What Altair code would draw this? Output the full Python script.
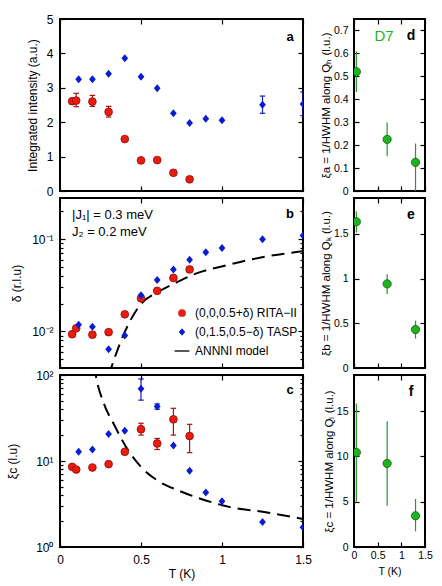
import altair as alt
import pandas as pd

FONT = "Liberation Sans"

RITA = "(0,0,0.5+δ) RITA−II"
TASP = "(0,1.5,0.5−δ) TASP"
ANNNI = "ANNNI model"

RED, RED_EDGE, RED_BAR = "#ec1b10", "#8e0b06", "#a3140e"
BLUE, BLUE_BAR = "#0a1bd4", "#1624b4"
GREEN, GREEN_EDGE, GREEN_BAR = "#1db41d", "#0c610c", "#2a962a"

DIAMOND = "M0,-1L0.84,0L0,1L-0.84,0Z"
DASH = "M-1.9,-0.17L1.9,-0.17L1.9,0.17L-1.9,0.17Z"

# ---------------- measured data ----------------
t_rita = [0.075, 0.1, 0.2, 0.3, 0.4, 0.5, 0.6, 0.7, 0.8]
t_tasp = [0.115, 0.2, 0.3, 0.4, 0.5, 0.6, 0.7, 0.8, 0.9, 1.0, 1.25, 1.5]

# integrated intensity (a.u.)
int_rita = [2.61, 2.63, 2.60, 2.30, 1.51, 0.89, 0.90, 0.53, 0.34]
int_tasp = [3.25, 3.25, 3.41, 3.86, 3.32, 2.99, 2.26, 1.98, 2.10, 2.06, 2.51, 2.53]
int_rita_err_t = [0.1, 0.2, 0.3]
int_rita_lo = [2.45, 2.46, 2.15]
int_rita_hi = [2.84, 2.78, 2.46]
int_tasp_err_t = [1.25, 1.5]
int_tasp_lo = [2.26, 2.19]
int_tasp_hi = [2.76, 2.88]

# incommensurability delta (r.l.u.)
delta_rita = [0.0093, 0.0108, 0.0092, 0.0098, 0.0153, 0.0228, 0.0275, 0.038, 0.047]
delta_tasp = [0.0118, 0.0112, 0.0064, 0.0090, 0.0247, 0.036, 0.047, 0.060, 0.072, 0.0805, 0.100, 0.110]
annni_delta_t = [0.3, 0.39, 0.5, 0.6, 0.72, 0.83, 1.03, 1.24, 1.47, 1.5]
annni_delta = [0.0033, 0.009, 0.0198, 0.0264, 0.034, 0.0418, 0.0522, 0.0634, 0.0729, 0.074]

# correlation length along c (l.u.)
xi_rita = [8.55, 7.96, 8.4, 9.2, 12.8, 23.4, 16.0, 30.5, 19.5]
xi_tasp = [12.8, 13.6, 20.6, 22.5, 69.0, 43.0, 15.1, 7.7, 4.3, 3.4, 1.95, 1.7]
xi_rita_err_t = [0.5, 0.6, 0.7, 0.8]
xi_rita_lo = [20.0, 13.6, 20.0, 12.5]
xi_rita_hi = [27.5, 18.3, 41.0, 26.7]
xi_tasp_err_t = [0.5, 0.6]
xi_tasp_lo = [51.0, 40.0]
xi_tasp_hi = [90.0, 46.0]
annni_xi_t = [0.21, 0.224, 0.27, 0.335, 0.42, 0.5, 0.6, 0.73, 0.9, 1.05, 1.26, 1.5]
annni_xi = [130, 92, 47, 26.2, 13.4, 8.55, 5.96, 4.55, 3.48, 2.91, 2.55, 2.12]

# D7 diffuse scattering: 1/HWHM along h, k, l
t_d7 = [0.05, 0.7, 1.3]
xi_a = [0.52, 0.225, 0.125]
xi_a_lo = [0.432, 0.152, 0.0]
xi_a_hi = [0.609, 0.299, 0.207]
xi_b = [1.635, 0.94, 0.43]
xi_b_lo = [1.514, 0.827, 0.33]
xi_b_hi = [1.753, 1.047, 0.53]
xi_c = [10.44, 9.23, 3.45]
xi_c_lo = [5.0, 4.55, 1.73]
xi_c_hi = [15.85, 13.9, 5.3]

T_TICKS = [0, 0.5, 1, 1.5]

# ---------------- tables ----------------
rita = pd.DataFrame({"T": t_rita, "I": int_rita, "delta": delta_rita, "xi": xi_rita, "series": RITA})
tasp = pd.DataFrame({"T": t_tasp, "I": int_tasp, "delta": delta_tasp, "xi": xi_tasp, "series": TASP})
d7 = pd.DataFrame({"T": t_d7, "a": xi_a, "b": xi_b, "c": xi_c})

# ---------------- scales ----------------
x_main = alt.Scale(domain=[0, 1.5], nice=False, zero=False)
y_int = alt.Scale(domain=[0, 5], nice=False, zero=False)
y_delta = alt.Scale(type="log", domain=[0.004, 0.28], nice=False)
y_xi = alt.Scale(type="log", domain=[1, 100], nice=False)
y_ha = alt.Scale(domain=[0, 0.75], nice=False, zero=False)
y_hb = alt.Scale(domain=[0, 1.9], nice=False, zero=False)
y_hc = alt.Scale(domain=[0, 19], nice=False, zero=False)

series_color = alt.Scale(domain=[RITA, TASP, ANNNI], range=[RED, BLUE, "black"])
series_shape = alt.Scale(domain=[RITA, TASP, ANNNI], range=["circle", DIAMOND, DASH])


# ---------------- axes (inward ticks on all four sides) ----------------
def tick_axis(orient, values, length):
    # a negative tick length draws the ticks into the plot area
    return alt.Axis(orient=orient, values=values, tickSize=alt.ExprRef(f"-{length}"),
                    domain=False, grid=False, labels=False, ticks=True,
                    tickColor="black", tickWidth=1.2, title=None)


def label_axis(orient, values, title=None, label_size=12, title_size=12,
               label_pad=7, title_pad=6, expr=None, length=5):
    opts = dict(orient=orient, values=values, tickSize=alt.ExprRef(f"-{length}"),
                domain=False, grid=False, ticks=True, tickColor="black", tickWidth=1.2,
                labels=True, labelFont=FONT, labelFontSize=label_size, labelColor="black",
                labelPadding=label_pad + length, labelFlush=False, labelOverlap=False,
                title=title, titleFont=FONT, titleFontSize=title_size,
                titleFontWeight="normal", titleColor="black", titlePadding=title_pad)
    if expr is not None:
        opts["labelExpr"] = expr
    else:
        opts["format"] = "~g"
    return alt.Axis(**opts)


def guides(xs, ys, corner, x_bottom, y_left, x_top, y_right, y_left_minor=None, y_right_minor=None):
    base = alt.Chart(pd.DataFrame({"x": [corner[0]], "y": [corner[1]]})).mark_point(opacity=0)
    out = [
        base.encode(x=alt.X("x:Q", scale=xs, axis=x_bottom), y=alt.Y("y:Q", scale=ys, axis=y_left)),
        base.encode(x=alt.X("x:Q", scale=xs, axis=x_top), y=alt.Y("y:Q", scale=ys, axis=y_right)),
    ]
    if y_left_minor is not None:
        out.append(base.encode(x=alt.X("x:Q", scale=xs, axis=None),
                               y=alt.Y("y:Q", scale=ys, axis=y_left_minor)))
        out.append(base.encode(x=alt.X("x:Q", scale=xs, axis=None),
                               y=alt.Y("y:Q", scale=ys, axis=y_right_minor)))
    return out


# ---------------- mark helpers ----------------
def series_points(df, field, ys, shape, fill, edge, size, legend=None):
    enc = dict(x=alt.X("T:Q", scale=x_main, axis=None),
               y=alt.Y(f"{field}:Q", scale=ys, axis=None))
    mark = dict(filled=True, size=size, opacity=1, clip=True)
    if edge is not None:
        mark.update(stroke=edge, strokeWidth=0.8)
    else:
        mark.update(strokeWidth=0)
    if legend is not None:
        enc["color"] = alt.Color("series:N", scale=series_color, legend=legend)
        enc["shape"] = alt.Shape("series:N", scale=series_shape, legend=legend)
    else:
        mark.update(color=fill, shape=shape)
    return alt.Chart(df).mark_point(**mark).encode(**enc)


def error_bars(T, lo, hi, xs, ys, color, caps=True):
    base = alt.Chart(pd.DataFrame({"T": T, "lo": lo, "hi": hi}))
    x = alt.X("T:Q", scale=xs, axis=None)
    layers = [base.mark_rule(color=color, strokeWidth=1.2, clip=True).encode(
        x=x, y=alt.Y("lo:Q", scale=ys, axis=None), y2="hi:Q")]
    if caps:
        for f in ("lo", "hi"):
            layers.append(base.mark_point(shape="stroke", size=30, stroke=color, strokeWidth=1.2,
                                          filled=False, opacity=1, clip=True).encode(
                x=x, y=alt.Y(f"{f}:Q", scale=ys, axis=None)))
    return layers


def model_curve(T, v, ys):
    df = pd.DataFrame({"T": T, "v": v})
    return alt.Chart(df).mark_line(color="black", strokeWidth=2, strokeDash=[13, 7],
                                   clip=True, interpolate="monotone").encode(
        x=alt.X("T:Q", scale=x_main, axis=None), y=alt.Y("v:Q", scale=ys, axis=None))


def note(text, x, y, size=13, weight="bold", color="black", align="center"):
    return alt.Chart(pd.DataFrame({"t": [text]})).mark_text(
        font=FONT, fontSize=size, fontWeight=weight, color=color, align=align,
        baseline="middle").encode(text="t:N", x=alt.value(x), y=alt.value(y))


def panel(layers, w, h):
    return alt.layer(*layers).properties(width=w, height=h).resolve_axis(
        x="independent", y="independent")


W_L, W_R = 243, 71
H_1, H_2, H_3 = 172, 170, 172

# ---------------- (a) integrated intensity ----------------
pa = panel(
    guides(x_main, y_int, (0, 0),
           tick_axis("bottom", T_TICKS, 5),
           label_axis("left", [0, 1, 2, 3, 4, 5], title="Integrated intensity (a.u.)", title_pad=7),
           tick_axis("top", T_TICKS, 5),
           tick_axis("right", [0, 1, 2, 3, 4, 5], 5))
    + error_bars(int_rita_err_t, int_rita_lo, int_rita_hi, x_main, y_int, RED_BAR)
    + error_bars(int_tasp_err_t, int_tasp_lo, int_tasp_hi, x_main, y_int, BLUE_BAR)
    + [series_points(rita, "I", y_int, "circle", RED, RED_EDGE, 60),
       series_points(tasp, "I", y_int, DIAMOND, BLUE, None, 64),
       note("a", 230, 18)],
    W_L, H_1)

# ---------------- (b) incommensurability ----------------
delta_major = [0.01, 0.1]
delta_minor = [0.005, 0.006, 0.007, 0.008, 0.009,
               0.02, 0.03, 0.04, 0.05, 0.06, 0.07, 0.08, 0.09, 0.2]
legend_b = alt.Legend(orient="none", legendX=116, legendY=109, title=None,
                      labelFont=FONT, labelFontSize=12, labelColor="black",
                      symbolSize=60, symbolStrokeWidth=0, rowPadding=7, labelOffset=7, padding=0)
pb = panel(
    guides(x_main, y_delta, (0, 0.004),
           tick_axis("bottom", T_TICKS, 5),
           label_axis("left", delta_major, title="δ (r.l.u)", title_pad=8,
                      expr="datum.value < 0.05 ? '10⁻²' : '10⁻¹'"),
           tick_axis("top", T_TICKS, 5),
           tick_axis("right", delta_major, 5),
           tick_axis("left", delta_minor, 3),
           tick_axis("right", delta_minor, 3))
    + [model_curve(annni_delta_t, annni_delta, y_delta),
       series_points(rita, "delta", y_delta, "circle", RED, RED_EDGE, 60, legend=legend_b),
       series_points(tasp, "delta", y_delta, DIAMOND, BLUE, None, 64, legend=legend_b),
       note("b", 230, 16),
       note("|J₁| = 0.3 meV", 12, 17, weight="normal", align="left"),
       note("J₂ = 0.2 meV", 12, 34, weight="normal", align="left")],
    W_L, H_2)

# ---------------- (c) correlation length ----------------
xi_major = [1, 10, 100]
xi_minor = [2, 3, 4, 5, 6, 7, 8, 9, 20, 30, 40, 50, 60, 70, 80, 90]
pc = panel(
    guides(x_main, y_xi, (0, 1),
           label_axis("bottom", T_TICKS, title="T (K)", label_pad=7, title_pad=3),
           label_axis("left", xi_major, title="ξc (l.u)", title_pad=16,
                      expr="datum.value > 50 ? '10²' : datum.value > 5 ? '10¹' : '10⁰'"),
           tick_axis("top", T_TICKS, 5),
           tick_axis("right", xi_major, 5),
           tick_axis("left", xi_minor, 3),
           tick_axis("right", xi_minor, 3))
    + [model_curve(annni_xi_t, annni_xi, y_xi)]
    + error_bars(xi_rita_err_t, xi_rita_lo, xi_rita_hi, x_main, y_xi, RED_BAR)
    + error_bars(xi_tasp_err_t, xi_tasp_lo, xi_tasp_hi, x_main, y_xi, BLUE_BAR)
    + [series_points(rita, "xi", y_xi, "circle", RED, RED_EDGE, 60),
       series_points(tasp, "xi", y_xi, DIAMOND, BLUE, None, 64),
       note("c", 230, 15)],
    W_L, H_3)


# ---------------- (d, e, f) D7 widths ----------------
def d7_panel(field, lo, hi, ys, ticks, title, letter, bottom=False, extra=()):
    x_bottom = (label_axis("bottom", T_TICKS, title="T (K)", label_size=10.5, title_size=10.5,
                           label_pad=3, title_pad=6)
                if bottom else tick_axis("bottom", T_TICKS, 5))
    layers = (guides(x_main, ys, (0, 0),
                     x_bottom,
                     label_axis("left", ticks, title=title, label_size=10.5, title_size=11.5,
                                label_pad=6, title_pad=2),
                     tick_axis("top", T_TICKS, 5),
                     tick_axis("right", ticks, 5))
              + error_bars(t_d7, lo, hi, x_main, ys, GREEN_BAR, caps=False)
              + [alt.Chart(d7).mark_point(filled=True, size=68, color=GREEN, stroke=GREEN_EDGE,
                                          strokeWidth=0.8, opacity=1, clip=True).encode(
                     x=alt.X("T:Q", scale=x_main, axis=None),
                     y=alt.Y(f"{field}:Q", scale=ys, axis=None)),
                 note(letter, 57, 17, size=14)]
              + list(extra))
    return layers


pd7a = panel(d7_panel("a", xi_a_lo, xi_a_hi, y_ha,
                      [0, 0.1, 0.2, 0.3, 0.4, 0.5, 0.6, 0.7],
                      "ξa = 1/HWHM along Qₕ (l.u.)", "d",
                      extra=[note("D7", 30, 17, size=15, weight="normal", color=GREEN)]),
             W_R, H_1)
pd7b = panel(d7_panel("b", xi_b_lo, xi_b_hi, y_hb, [0, 0.5, 1, 1.5],
                      "ξb = 1/HWHM along Qₖ (l.u.)", "e"), W_R, H_2)
pd7c = panel(d7_panel("c", xi_c_lo, xi_c_hi, y_hc, [0, 5, 10, 15],
                      "ξc = 1/HWHM along Qₗ (l.u.)", "f", bottom=True), W_R, H_3)

chart = alt.concat(pa, pd7a, pb, pd7b, pc, pd7c, columns=2,
                   spacing={"row": 7, "column": 51}, bounds="flush", align="each").resolve_scale(
    color="independent", shape="independent"
).configure_view(stroke="black", strokeWidth=2).properties(
    background="white", padding={"left": 5, "top": 12, "right": 5, "bottom": 2})

chart.save("out.html", embed_options={"renderer": "svg", "actions": False})
